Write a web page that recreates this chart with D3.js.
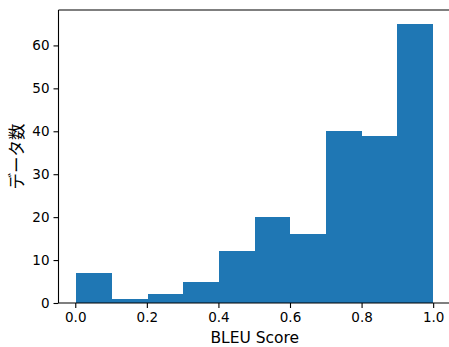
<!DOCTYPE html>
<html lang="ja">
<head>
<meta charset="utf-8">
<style>
  body { margin: 0; background: #fff; }
  svg text { font-family: "DejaVu Sans", "Noto Sans CJK JP", sans-serif; fill: #000; }
</style>
</head>
<body>
<div id="chart"></div>
<script src="https://cdn.jsdelivr.net/npm/d3@7/dist/d3.min.js"></script>
<script>
// histogram of BLEU scores, 10 bins
var binEdges = [0.003, 0.1027, 0.2024, 0.3021, 0.4018, 0.5015, 0.6012, 0.7009, 0.8006, 0.9003, 1.0];
var counts = [7, 1, 2, 5, 12, 20, 16, 40, 39, 65];
var xTicks = [0.0, 0.2, 0.4, 0.6, 0.8, 1.0];
var yTicks = [0, 10, 20, 30, 40, 50, 60];

var width = 449, height = 347;
var margin = {left: 58.5, right: -2, top: 10, bottom: 44};

var svg = d3.select("#chart").append("svg")
    .attr("width", width)
    .attr("height", height);

// matplotlib-style 5% margins
var span = binEdges[binEdges.length - 1] - binEdges[0];
var x = d3.scaleLinear()
    .domain([binEdges[0] - 0.05 * span, binEdges[binEdges.length - 1] + 0.05 * span])
    .range([margin.left, width - margin.right]);
var y = d3.scaleLinear()
    .domain([0, d3.max(counts) * 1.05])
    .range([height - margin.bottom, margin.top]);

var bins = counts.map(function(c, i) { return {x0: binEdges[i], x1: binEdges[i + 1], n: c}; });

svg.selectAll(".bar")
    .data(bins)
  .enter().append("rect")
    .attr("class", "bar")
    .attr("x", function(d) { return x(d.x0); })
    .attr("width", function(d) { return x(d.x1) - x(d.x0); })
    .attr("y", function(d) { return y(d.n); })
    .attr("height", function(d) { return y(0) - y(d.n); })
    .attr("fill", "#1f77b4")
    .attr("shape-rendering", "crispEdges");

// axes
var xAxis = d3.axisBottom(x).tickValues(xTicks).tickFormat(d3.format(".1f")).tickSizeInner(5).tickSizeOuter(0).tickPadding(4);
var yAxis = d3.axisLeft(y).tickValues(yTicks).tickFormat(d3.format("d")).tickSizeInner(5).tickSizeOuter(0).tickPadding(4);

var gx = svg.append("g")
    .attr("transform", "translate(0," + y(0) + ")")
    .call(xAxis);
var gy = svg.append("g")
    .attr("transform", "translate(" + margin.left + ",0)")
    .call(yAxis);

[gx, gy].forEach(function(g) {
  g.select(".domain").remove();
  g.selectAll("line").attr("stroke", "#000").attr("stroke-width", 1.1);
  g.selectAll("text").style("font-size", "13.5px").attr("fill", "#000");
});

// spines (left, bottom, top; right falls outside the picture)
svg.append("line").attr("x1", margin.left).attr("x2", margin.left)
    .attr("y1", margin.top).attr("y2", y(0)).attr("stroke", "#000").attr("stroke-width", 1.1);
svg.append("line").attr("x1", margin.left).attr("x2", width - margin.right)
    .attr("y1", y(0)).attr("y2", y(0)).attr("stroke", "#000").attr("stroke-width", 1.1);
svg.append("line").attr("x1", margin.left).attr("x2", width - margin.right)
    .attr("y1", margin.top).attr("y2", margin.top).attr("stroke", "#000").attr("stroke-width", 1.1);

// labels
svg.append("text")
    .attr("x", (margin.left + width - margin.right) / 2)
    .attr("y", 343)
    .attr("text-anchor", "middle")
    .style("font-size", "15.5px")
    .text("BLEU Score");

svg.append("text")
    .attr("transform", "translate(23," + ((margin.top + y(0)) / 2) + ") rotate(-90)")
    .attr("text-anchor", "middle")
    .style("font-family", "'Noto Sans CJK JP', sans-serif")
    .style("font-size", "16.5px")
    .text("データ数");
</script>
</body>
</html>
